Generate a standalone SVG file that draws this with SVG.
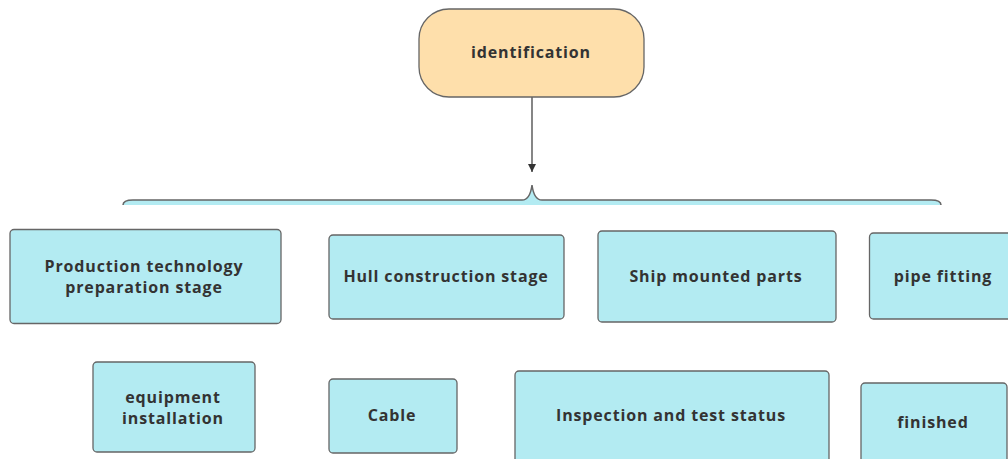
<svg xmlns="http://www.w3.org/2000/svg" width="1008" height="459" viewBox="0 0 1008 459">
  <defs>
    <style>
      .box { fill: #b3ebf2; stroke: #666; stroke-width: 1.3; }
      .root { fill: #fedfab; stroke: #666; stroke-width: 1.3; }
      .lbl { font-family: "Open Sans", "Noto Sans", sans-serif; font-weight: bold; font-size: 16px; letter-spacing: 0.85px; fill: #333; text-anchor: middle; dominant-baseline: central; }
      .conn { fill: none; stroke: #444; stroke-width: 1.3; }
    </style>
    <marker id="arrow" markerWidth="10" markerHeight="10" refX="8" refY="4" orient="auto" markerUnits="userSpaceOnUse">
      <path d="M0,0 L8,4 L0,8 Z" fill="#333"/>
    </marker>
  </defs>
  <rect width="1008" height="459" fill="#fff"/>

  <g id="connectors">
    <line class="conn" x1="532" y1="97" x2="532" y2="172" marker-end="url(#arrow)"/>
  </g>

  <!-- brace grouping the stages -->
  <g id="brace">
    <path d="M123,205 Q123,200 133,200 L522,200 Q530,200 532,185 Q534,200 542,200 L931,200 Q941,200 941,205 Z" fill="#b3ebf2"/>
    <path d="M123,205 Q123,200 133,200 L522,200 Q530,200 532,185 Q534,200 542,200 L931,200 Q941,200 941,205" fill="none" stroke="#666" stroke-width="1.5"/>
  </g>

  <g id="identification">
    <rect class="root" x="419" y="9" width="225" height="88" rx="30" ry="30"/>
    <text class="lbl" x="531" y="52">identification</text>
  </g>

  <g id="production">
    <rect class="box" x="10" y="229.5" width="271" height="94" rx="4"/>
    <text class="lbl" x="144" y="265.5">Production technology</text>
    <text class="lbl" x="144" y="286.5">preparation stage</text>
  </g>

  <g id="hull">
    <rect class="box" x="329" y="235" width="235" height="84" rx="4"/>
    <text class="lbl" x="446" y="276">Hull construction stage</text>
  </g>

  <g id="ship-parts">
    <rect class="box" x="598" y="231" width="238" height="91" rx="4"/>
    <text class="lbl" x="716" y="276">Ship mounted parts</text>
  </g>

  <g id="pipe">
    <rect class="box" x="869.5" y="233" width="150" height="86" rx="4"/>
    <text class="lbl" x="943" y="276">pipe fitting</text>
  </g>

  <g id="equipment">
    <rect class="box" x="93" y="362" width="162" height="90" rx="4"/>
    <text class="lbl" x="173" y="397">equipment</text>
    <text class="lbl" x="173" y="418">installation</text>
  </g>

  <g id="cable">
    <rect class="box" x="329" y="379" width="128" height="74" rx="4"/>
    <text class="lbl" x="392" y="415">Cable</text>
  </g>

  <g id="inspection">
    <rect class="box" x="515" y="371" width="314" height="92" rx="4"/>
    <text class="lbl" x="671" y="415">Inspection and test status</text>
  </g>

  <g id="finished">
    <rect class="box" x="861" y="383" width="146" height="82" rx="4"/>
    <text class="lbl" x="933" y="422">finished</text>
  </g>
</svg>
